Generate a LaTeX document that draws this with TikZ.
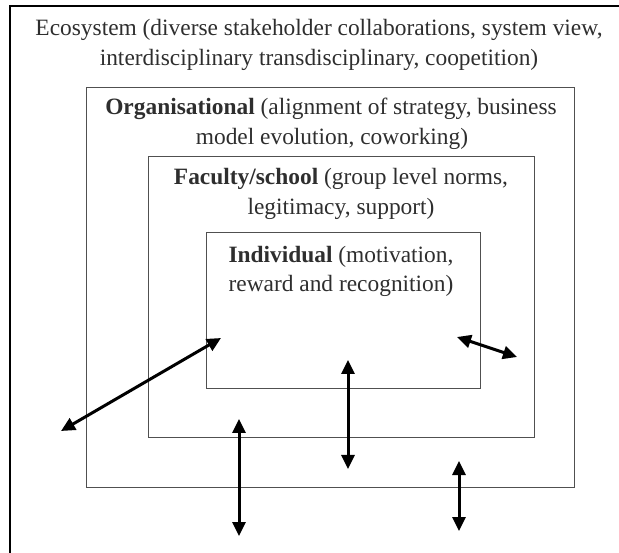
\documentclass[tikz,border=0pt]{standalone}
\usepackage{fontspec}
\setmainfont{Liberation Serif}
\usetikzlibrary{arrows.meta}
\definecolor{txt}{HTML}{2E2E2E}
\definecolor{boxline}{HTML}{505050}
\tikzset{
  frame/.style={draw=boxline, line width=1.3pt, inner sep=0pt, anchor=north west},
  lbl/.style={anchor=base, inner sep=0pt, text=txt, font=\fontsize{23.4}{29}\selectfont},
  dbl/.style={line width=3pt, {Triangle[length=14pt,width=13pt]}-{Triangle[length=14pt,width=13pt]}}
}
\begin{document}
\begin{tikzpicture}[x=1pt,y=-1pt]
\useasboundingbox (0,0) rectangle (619,553);
% outer frame (clipped at right and bottom)
\draw[line width=2.2pt] (10,570) -- (10,6) -- (640,6);
% boxes
\node[frame, minimum width=488pt, minimum height=400pt] (org) at (86,87) {};
\node[frame, minimum width=386pt, minimum height=281pt] (fac) at (148,156) {};
\node[frame, minimum width=274pt, minimum height=156pt] (ind) at (206,232) {};
% texts
\node[lbl] (eco1) at (319,36) {Ecosystem (diverse stakeholder collaborations, system view,};
\node[lbl] (eco2) at (319,66) {interdisciplinary transdisciplinary, coopetition)};
\node[lbl] (org1) at (331,115) {\textbf{Organisational} (alignment of strategy, business};
\node[lbl] (org2) at (332,145) {model evolution, coworking)};
\node[lbl] (fac1) at (341,185) {\textbf{Faculty/school} (group level norms,};
\node[lbl] (fac2) at (341,215) {legitimacy, support)};
\node[lbl] (ind1) at (341,263) {\textbf{Individual} (motivation,};
\node[lbl] (ind2) at (341,292) {reward and recognition)};
% arrow end points
\coordinate (a1s) at (61,431);  \coordinate (a1e) at (221,338);
\coordinate (a2s) at (457,337); \coordinate (a2e) at (517,357);
\coordinate (a3s) at (348,360); \coordinate (a3e) at (348,469);
\coordinate (a4s) at (239,419); \coordinate (a4e) at (239,536);
\coordinate (a5s) at (459,461); \coordinate (a5e) at (459,531);
\draw[dbl] (a1s) -- (a1e);
\draw[dbl] (a2s) -- (a2e);
\draw[dbl] (a3s) -- (a3e);
\draw[dbl] (a4s) -- (a4e);
\draw[dbl] (a5s) -- (a5e);
\end{tikzpicture}
\end{document}
